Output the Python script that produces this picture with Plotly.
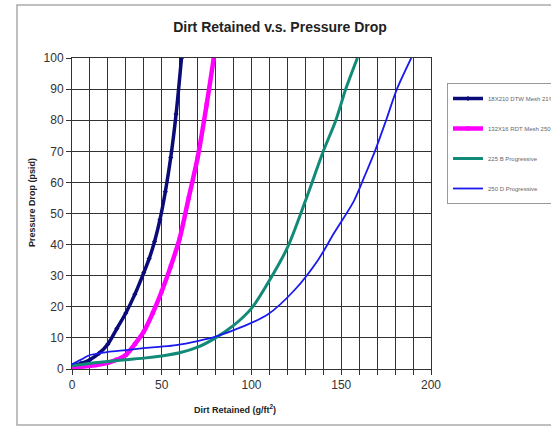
import plotly.graph_objects as go

# ---- data ----
dtw_x = [0, 5, 10, 15, 20, 25, 30, 35, 40, 43, 46, 49, 52, 55, 58, 61]
dtw_y = [1, 1.8, 3, 5, 8, 13, 18, 24, 31, 35.5, 41, 48, 57, 68, 82, 100]

rdt_x = [0, 10, 20, 25, 30, 35, 40, 45, 50, 55, 60, 65, 70, 75, 79]
rdt_y = [0.5, 1, 2, 3, 4.5, 8, 12, 18, 25, 33, 42, 55, 68, 85, 100]

b225_x = [0, 10, 20, 30, 40, 50, 60, 70, 80, 90, 100, 110, 120, 130, 140, 147, 152.5, 159]
b225_y = [1, 1.8, 2.4, 3, 3.5, 4.2, 5.2, 7, 10, 14, 19.5, 28.5, 39, 54, 70, 80, 90, 100]

d250_x = [0, 5, 10, 15, 20, 30, 40, 50, 58, 70, 80, 95, 109, 124, 137, 146, 157, 163, 169, 175, 181, 189]
d250_y = [1.5, 3, 4.5, 5, 5.5, 6.1, 6.7, 7.2, 7.7, 9, 10.4, 13.6, 17.5, 25.4, 35, 43.7, 54, 62, 70.4, 80, 90, 100]

names = ["18X210 DTW Mesh 21%", "132X16 RDT Mesh 250", "225 B Progressive", "250 D Progressive"]
x_ticks = [0, 50, 100, 150, 200]
y_ticks = [0, 10, 20, 30, 40, 50, 60, 70, 80, 90, 100]

FONT = "Arial, Liberation Sans, sans-serif"

fig = go.Figure()
fig.add_trace(go.Scatter(x=dtw_x, y=dtw_y, name=names[0], legendgroup="a",
                         mode="lines+markers",
                         line=dict(color="#0a0a78", width=3.5, shape="spline", smoothing=0.8),
                         marker=dict(symbol="diamond", size=4, color="#0a0a78")))
fig.add_trace(go.Scatter(x=rdt_x, y=rdt_y, name=names[1], legendgroup="b",
                         mode="lines+markers",
                         line=dict(color="#ff00ff", width=4.5, shape="spline", smoothing=0.8),
                         marker=dict(symbol="square", size=4, color="#ff00ff")))
fig.add_trace(go.Scatter(x=b225_x, y=b225_y, name=names[2], legendgroup="c",
                         mode="lines",
                         line=dict(color="#128a78", width=3, shape="spline", smoothing=0.8)))
fig.add_trace(go.Scatter(x=d250_x, y=d250_y, name=names[3], legendgroup="d",
                         mode="lines",
                         line=dict(color="#1a1aee", width=1.8, shape="spline", smoothing=0.8)))

W, H = 551, 427
L, R, T, B = 72, 431, 58, 369
pw, ph = R - L, B - T

def px(xp):
    return (xp - L) / pw

def py(yp):
    return (B - yp) / ph

fig.update_layout(
    width=W, height=H,
    margin=dict(l=L, r=W - R, t=T, b=H - B, autoexpand=False),
    paper_bgcolor="white", plot_bgcolor="white",
    font=dict(family=FONT, color="#333"),
    title=dict(text="<b>Dirt Retained v.s. Pressure Drop</b>", font=dict(size=14, color="#222"),
               x=280 / W, xref="container", xanchor="center",
               y=1 - 27 / H, yref="container", yanchor="middle"),
    showlegend=True,
    legend=dict(x=447 / W, y=1 - 83 / H, xref="container", yref="container",
                xanchor="left", yanchor="top",
                bordercolor="#999", borderwidth=1, bgcolor="white",
                font=dict(size=6, color="#666"), tracegroupgap=11,
                traceorder="grouped", itemwidth=30),
    shapes=[dict(type="rect", xref="paper", yref="paper",
                 x0=px(17), x1=px(600), y0=py(425), y1=py(5),
                 line=dict(color="#aaa", width=1.5), layer="below")],
    annotations=[
        dict(text="<b>Dirt Retained (g/ft<sup>2</sup>)</b>", xref="paper", yref="paper",
             x=px(235), y=py(409), showarrow=False, font=dict(size=9, color="#222"),
             xanchor="center", yanchor="middle"),
        dict(text="<b>Pressure Drop (psid)</b>", xref="paper", yref="paper",
             x=px(32), y=py(203), showarrow=False, textangle=-90,
             font=dict(size=9, color="#222"), xanchor="center", yanchor="middle"),
    ],
)

fig.update_xaxes(range=[0, 200], tickvals=x_ticks, showgrid=True, gridcolor="#333", gridwidth=1,
                 ticks="outside", ticklen=5, tickcolor="#333", automargin=False,
                 minor=dict(dtick=10, showgrid=True, gridcolor="#333", gridwidth=1,
                            ticks="outside", ticklen=5, tickcolor="#333"),
                 showline=True, linecolor="#333", mirror=True, zeroline=False,
                 tickfont=dict(size=12, color="#333"), fixedrange=True)
fig.update_yaxes(range=[0, 100], tickvals=y_ticks, showgrid=True, gridcolor="#333", gridwidth=1,
                 ticks="outside", ticklen=5, tickcolor="#333", automargin=False,
                 showline=True, linecolor="#333", mirror=True, zeroline=False,
                 tickfont=dict(size=12, color="#333"), fixedrange=True)

fig.write_html("out.html", config={"displayModeBar": False},
               post_script="document.body.style.margin='0';")
